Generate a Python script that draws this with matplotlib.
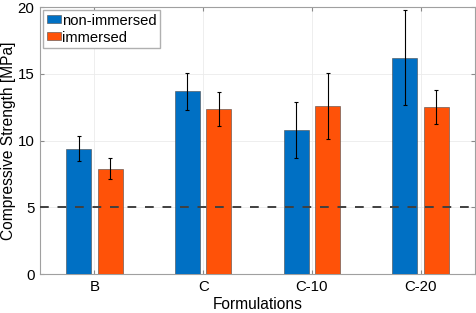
import matplotlib

matplotlib.use("Agg")
import matplotlib.pyplot as plt  # noqa: E402
import numpy as np  # noqa: E402

categories = ["B", "C", "C-10", "C-20"]
non_immersed = [9.4, 13.7, 10.8, 16.2]
non_immersed_err = [0.95, 1.37, 2.1, 3.55]
immersed = [7.9, 12.4, 12.6, 12.5]
immersed_err = [0.8, 1.27, 2.5, 1.27]
threshold = 5.0

plt.rcParams["font.family"] = ["Liberation Sans", "DejaVu Sans"]

fig = plt.figure(figsize=(4.77, 3.13), dpi=100)
ax = fig.add_axes([0.0839, 0.1236, 0.9119, 0.854])

x = np.arange(1, len(categories) + 1)
offset = 0.145
width = 0.23
err_kw = dict(ecolor="black", elinewidth=0.8, capsize=1.5, capthick=0.8)
ax.bar(x - offset, non_immersed, width, yerr=non_immersed_err, color="#0070C4",
       edgecolor="#4a4a4a", linewidth=0.4, error_kw=err_kw, label="non-immersed", zorder=3)
ax.bar(x + offset, immersed, width, yerr=immersed_err, color="#FF5208",
       edgecolor="#4a4a4a", linewidth=0.4, error_kw=err_kw, label="immersed", zorder=3)
ax.axhline(threshold, color="#404040", linestyle=(0, (4.5, 4.5)), linewidth=1.4, zorder=4)

ax.set_xlim(0.5, 4.5)
ax.set_ylim(0, 20)
ax.set_xticks(x)
ax.set_xticklabels(categories)
ax.set_yticks([0, 5, 10, 15, 20])
ax.tick_params(direction="in", length=3, labelsize=10.8, color="#8a8a8a",
               top=True, right=True, pad=4)
for s in ax.spines.values():
    s.set_color("#a0a0a0")
    s.set_linewidth(0.8)
ax.grid(True, color="#ebebeb", linewidth=0.6, zorder=0)
ax.set_axisbelow(True)

ax.set_xlabel("Formulations", fontsize=11.2, labelpad=2)
ax.set_ylabel("Compressive Strength [MPa]", fontsize=11.2, labelpad=1.5)

ax.legend(loc="upper left", fontsize=10.6, frameon=True, fancybox=False,
          edgecolor="#b0b0b0", framealpha=1, handlelength=0.95, handleheight=0.45,
          handletextpad=0.1, borderpad=0.25, labelspacing=0.2,
          borderaxespad=0.2)

fig.savefig("out.png", dpi=100)
plt.close(fig)
